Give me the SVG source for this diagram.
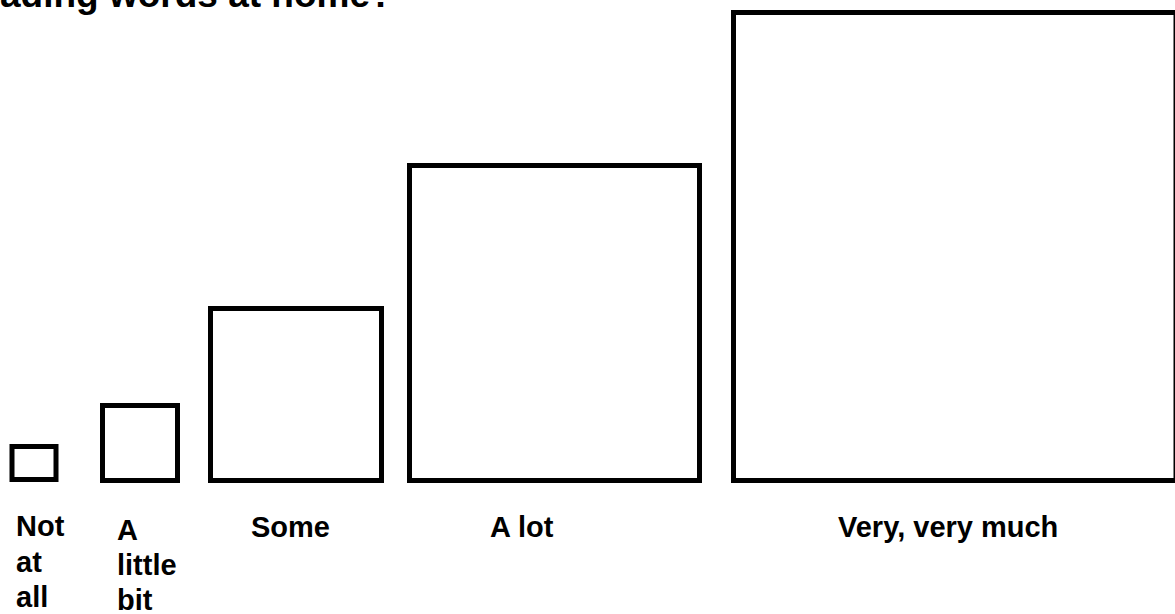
<svg xmlns="http://www.w3.org/2000/svg" width="1175" height="614" viewBox="0 0 1175 614">
  <style>
    .box { fill: #ffffff; stroke: #000000; stroke-width: 5; }
    .lbl { font-family: "Liberation Sans", Arial, sans-serif; font-weight: bold; font-size: 29px; fill: #000000; }
    .title { font-family: "Liberation Sans", Arial, sans-serif; font-weight: bold; font-size: 37px; fill: #000000; }
  </style>
  <rect x="0" y="0" width="1175" height="614" fill="#ffffff"/>
  <text class="title" x="0" y="7">ading words at home?</text>
  <g id="not-at-all">
    <rect class="box" x="12" y="446.5" width="44" height="33"/>
    <text class="lbl" x="16" y="536">Not</text>
    <text class="lbl" x="16" y="572">at</text>
    <text class="lbl" x="16" y="607">all</text>
  </g>
  <g id="a-little-bit">
    <rect class="box" x="102.5" y="405.5" width="75" height="75"/>
    <text class="lbl" x="117" y="540">A</text>
    <text class="lbl" x="117" y="575">little</text>
    <text class="lbl" x="117" y="610">bit</text>
  </g>
  <g id="some">
    <rect class="box" x="210.5" y="308.5" width="171" height="172"/>
    <text class="lbl" x="251" y="537">Some</text>
  </g>
  <g id="a-lot">
    <rect class="box" x="409.5" y="165.5" width="290" height="315"/>
    <text class="lbl" x="490" y="537">A lot</text>
  </g>
  <g id="very-very-much">
    <rect class="box" x="733.5" y="12.5" width="442.5" height="468"/>
    <text class="lbl" x="838" y="537">Very, very much</text>
  </g>
  <g id="connectors"/>
</svg>
